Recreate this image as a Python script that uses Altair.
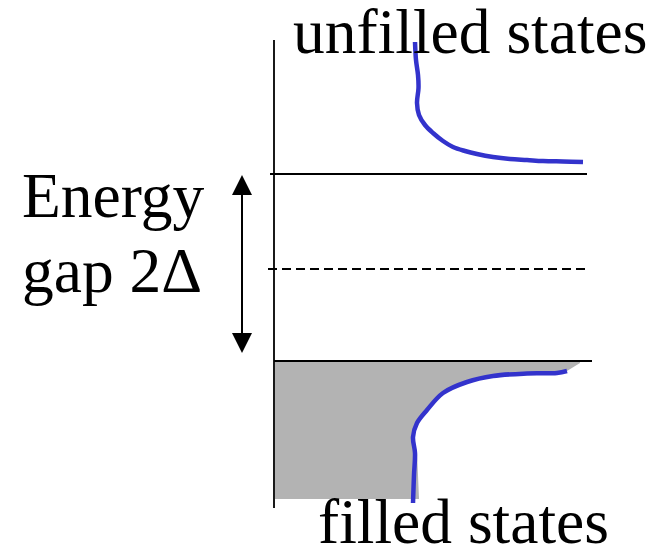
import altair as alt
import pandas as pd

# Schematic coordinates (reference pixel space, y grows downward)
upper_x = [415, 416, 418, 418.5, 417, 419, 425, 433, 443, 453, 465, 477, 493, 510, 527, 543, 563, 583]
upper_y = [42, 60, 75, 88, 103, 115, 125, 133, 141, 147, 151, 154, 157, 159, 160, 161, 161.5, 162]

lower_x = [567, 557, 527, 493, 467, 443, 427, 417, 413, 415, 414, 413]
lower_y = [371, 373, 373.5, 376, 382, 393, 410, 423, 437, 453, 475, 503]

fill_x = [580, 580, 567, 557, 527, 493, 467, 443, 427, 417, 413, 417, 418, 419]
fill_y = [360, 363, 371, 373, 373.5, 376, 382, 393, 410, 423, 437, 453, 475, 499]

levels_name = ["upper", "fermi", "lower"]
levels_y = [174, 269, 361]
levels_x1 = [270, 268, 274]
levels_x2 = [587, 587, 592]
levels_dash = [False, True, False]

labels = ["unfilled states", "Energy", "gap 2Δ", "filled states"]
labels_x = [293, 22, 22, 318]
labels_y = [53, 217, 292, 543]

arrow_x = 242
arrow_y1 = 190
arrow_y2 = 340

X = alt.Scale(domain=[8, 660], nice=False, zero=False)
Y = alt.Scale(domain=[8, 546], nice=False, zero=False, reverse=True)

def xe(f, **kw):
    return alt.X(f, type="quantitative", scale=X, axis=None, **kw)

def ye(f, **kw):
    return alt.Y(f, type="quantitative", scale=Y, axis=None, **kw)

fill_df = pd.DataFrame({"x": fill_x, "y": fill_y, "x0": [275] * len(fill_x)})
fill = alt.Chart(fill_df).mark_area(orient="horizontal", color="#b3b3b3", opacity=1).encode(
    x=xe("x", stack=None), x2="x0", y=ye("y")
)

upper_df = pd.DataFrame({"x": upper_x, "y": upper_y, "i": range(len(upper_x))})
upper = alt.Chart(upper_df).mark_line(color="#3333cc", strokeWidth=4.5, interpolate="catmull-rom").encode(
    x=xe("x"), y=ye("y"), order="i:Q"
)

lower_df = pd.DataFrame({"x": lower_x, "y": lower_y, "i": range(len(lower_x))})
lower = alt.Chart(lower_df).mark_line(color="#3333cc", strokeWidth=4.5, interpolate="catmull-rom").encode(
    x=xe("x"), y=ye("y"), order="i:Q"
)

lv = pd.DataFrame({"name": levels_name, "y": levels_y, "x1": levels_x1, "x2": levels_x2, "dash": levels_dash})
solid = alt.Chart(lv[~lv["dash"]]).mark_rule(color="black", strokeWidth=1.8).encode(
    x=xe("x1"), x2="x2", y=ye("y")
)
dashed = alt.Chart(lv[lv["dash"]]).mark_rule(color="black", strokeWidth=1.8, strokeDash=[9, 5]).encode(
    x=xe("x1"), x2="x2", y=ye("y")
)

axis_df = pd.DataFrame({"x": [274], "y1": [40], "y2": [508]})
vaxis = alt.Chart(axis_df).mark_rule(color="black", strokeWidth=1.8).encode(
    x=xe("x"), y=ye("y1"), y2="y2"
)

shaft_df = pd.DataFrame({"x": [arrow_x], "y1": [arrow_y1], "y2": [arrow_y2]})
shaft = alt.Chart(shaft_df).mark_rule(color="black", strokeWidth=2).encode(
    x=xe("x"), y=ye("y1"), y2="y2"
)
head_up_df = pd.DataFrame({"x": [arrow_x], "y": [185]})
head_up = alt.Chart(head_up_df).mark_point(
    shape="M0,-1L-1,1L1,1Z", size=400, filled=True, color="black", opacity=1
).encode(x=xe("x"), y=ye("y"))
head_dn_df = pd.DataFrame({"x": [arrow_x], "y": [343]})
head_dn = alt.Chart(head_dn_df).mark_point(
    shape="M0,1L-1,-1L1,-1Z", size=400, filled=True, color="black", opacity=1
).encode(x=xe("x"), y=ye("y"))

txt_df = pd.DataFrame({"t": labels, "x": labels_x, "y": labels_y})
texts = alt.Chart(txt_df).mark_text(
    align="left", baseline="alphabetic", font="Liberation Serif", fontSize=63.5, color="black"
).encode(x=xe("x"), y=ye("y"), text="t:N")

chart = alt.layer(
    fill, solid, dashed, vaxis, upper, lower, shaft, head_up, head_dn, texts
).properties(
    width=652, height=538, autosize=alt.AutoSizeParams(type="none"), padding=0
).configure_view(stroke=None)

chart.save("out.html", embed_options={"renderer": "svg", "actions": False})
